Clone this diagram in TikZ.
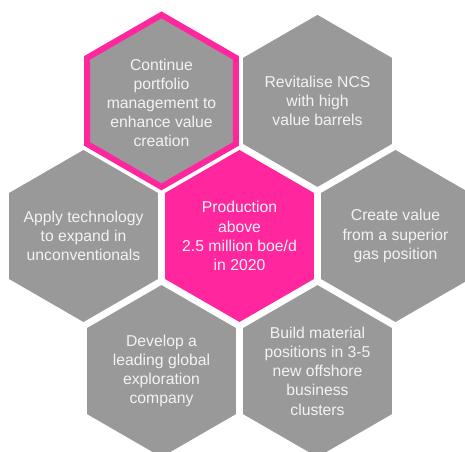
\documentclass[tikz,border=0pt]{standalone}
\usepackage{fontspec}
\setmainfont{Liberation Sans}
\usetikzlibrary{shapes.geometric,positioning,calc}
\definecolor{hexgrey}{RGB}{153,153,153}
\definecolor{hexpink}{RGB}{255,38,158}
\definecolor{hexfont}{RGB}{243,243,243}

\begin{document}
\begin{tikzpicture}[x=0.75pt,y=0.75pt,
        hexcell/.style={regular polygon, regular polygon sides=6, shape border rotate=30,
            minimum size=129pt, inner sep=0pt, outer sep=0pt, fill=hexgrey},
        hexgoal/.style={hexcell, fill=hexpink},
        hexmark/.style={hexcell, draw=hexpink, line width=4.5pt},
        hextext/.style={text=hexfont, align=center, inner sep=0pt,
            font=\fontsize{11.8pt}{14.4pt}\selectfont}]
        % Hexagon grid formulae
        \pgfmathsetmacro{\spacing}{156}
        % Page frame, the outer cells are cut at the edges
        \useasboundingbox (0, 0) rectangle (465, 452);
        \clip (0, 0) rectangle (465, 452);
        % Centre of the grid and its six neighbours
        \coordinate (C0) at (239.5, 216);
        \coordinate (C1) at ($(C0) + (120:\spacing)$);
        \coordinate (C2) at ($(C0) + (60:\spacing)$);
        \coordinate (C3) at ($(C0) + (0:\spacing)$);
        \coordinate (C4) at ($(C0) + (-60:\spacing)$);
        \coordinate (C5) at ($(C0) + (-120:\spacing)$);
        \coordinate (C6) at ($(C0) + (180:\spacing)$);

        % Cells
        \node [hexgoal] (core) at (C0) {};
        \node [hexmark] (portfolio) at (C1) {};
        \node [hexcell] (ncs) at (C2) {};
        \node [hexcell] (gas) at (C3) {};
        \node [hexcell] (offshore) at (C4) {};
        \node [hexcell] (explore) at (C5) {};
        \node [hexcell] (tech) at (C6) {};

        % Texts
        \node [hextext] (core-txt) at (core) {Production\\above\\2.5 million boe/d\\in 2020};
        \node [hextext] (portfolio-txt) at ($(portfolio) + (0, -2)$) {Continue\\portfolio\\management to\\enhance value\\creation};
        \node [hextext] (ncs-txt) at (ncs) {Revitalise NCS\\with high\\value barrels};
        \node [hextext] (gas-txt) at (gas) {Create value\\from a superior\\gas position};
        \node [hextext] (offshore-txt) at (offshore) {Build material\\positions in 3-5\\new offshore\\business\\clusters};
        \node [hextext] (explore-txt) at (explore) {Develop a\\leading global\\exploration\\company};
        \node [hextext] (tech-txt) at (tech) {Apply technology\\to expand in\\unconventionals};
\end{tikzpicture}
\end{document}
